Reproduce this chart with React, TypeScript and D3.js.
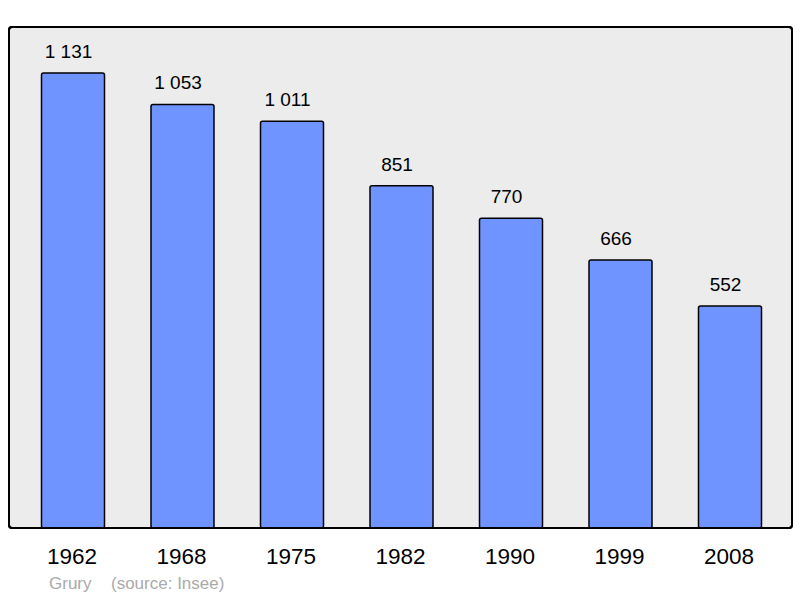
import React from "react";
import * as d3 from "d3";

const years = ["1962", "1968", "1975", "1982", "1990", "1999", "2008"];
const populations = [1131, 1053, 1011, 851, 770, 666, 552];
const valueLabels = ["1 131", "1 053", "1 011", "851", "770", "666", "552"];
const sourceName = "Grury";
const sourceText = "(source: Insee)";

const W = 800;
const H = 598;
const panel = { x: 9, y: 27, w: 783, h: 501 };

export default function App() {
  const x = d3.scalePoint<string>().domain(years).range([73, 730]);
  const y = d3
    .scaleLinear()
    .domain([0, 1131])
    .range([panel.y + panel.h, 73]);
  const barW = 63;
  const font = "'Liberation Sans', Arial, sans-serif";
  return (
    <svg
      width={W}
      height={H}
      style={{ position: "absolute", left: 0, top: 0, background: "#fff" }}
      fontFamily={font}
    >
      <rect
        x={panel.x}
        y={panel.y}
        width={panel.w}
        height={panel.h}
        rx={3}
        fill="#ececec"
        stroke="#000"
        strokeWidth={2}
      />
      {populations.map((v, i) => {
        const cx = x(years[i]) as number;
        const top = y(v);
        return (
          <g key={years[i]}>
            <rect
              x={cx - barW / 2}
              y={top}
              width={barW}
              height={y(0) - top}
              rx={2}
              fill="#7094ff"
              stroke="#000"
              strokeWidth={1.5}
            />
            <text x={cx - 4.5} y={top - 15} textAnchor="middle" fontSize={19} fill="#000">
              {valueLabels[i]}
            </text>
            <text x={cx - 1} y={564} textAnchor="middle" fontSize={22.5} fill="#000">
              {years[i]}
            </text>
          </g>
        );
      })}
      <rect
        x={panel.x}
        y={panel.y}
        width={panel.w}
        height={panel.h}
        rx={3}
        fill="none"
        stroke="#000"
        strokeWidth={2}
      />
      <text x={49} y={589} fontSize={17} fill="#aaaaaa">
        {sourceName}
      </text>
      <text x={111} y={589} fontSize={17} fill="#aaaaaa">
        {sourceText}
      </text>
    </svg>
  );
}
